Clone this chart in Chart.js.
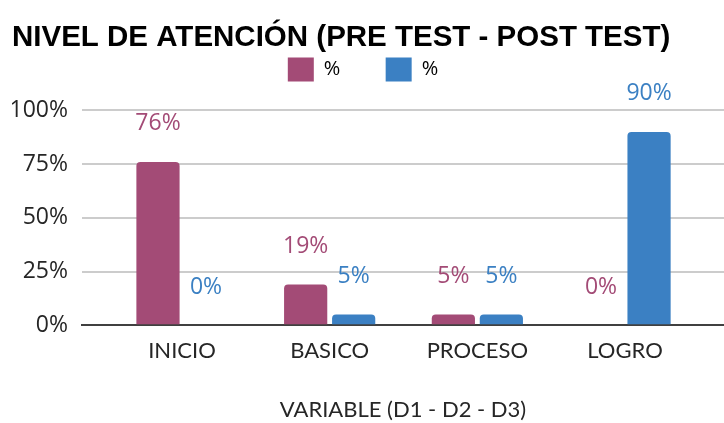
<!DOCTYPE html>
<html>
<head>
<meta charset="utf-8">
<script src="https://cdn.jsdelivr.net/npm/chart.js@4.4.1/dist/chart.umd.min.js"></script>
<style>
  html, body { margin: 0; padding: 0; background: #ffffff; }
  #wrap { width: 724px; height: 423px; position: relative; }
</style>
</head>
<body>
<div id="wrap"><canvas id="chart"></canvas></div>
<script>
// Data
const categories = ['INICIO', 'BASICO', 'PROCESO', 'LOGRO'];
const preTest = [76, 19, 5, 0];
const postTest = [0, 5, 5, 90];
const yTicks = [0, 25, 50, 75, 100];

const pink = '#a34b76';
const blue = '#3b80c3';

// value labels above each bar
const barLabels = {
    id: 'barLabels',
    afterDatasetsDraw(chart) {
        const ctx = chart.ctx;
        ctx.save();
        ctx.font = '23px "Open Sans"';
        ctx.textAlign = 'center';
        ctx.textBaseline = 'middle';
        chart.data.datasets.forEach((ds, i) => {
            const meta = chart.getDatasetMeta(i);
            ctx.fillStyle = ds.backgroundColor;
            meta.data.forEach((bar, j) => {
                ctx.fillText(ds.data[j].y + '%', bar.x, bar.y - 38);
            });
        });
        ctx.restore();
    }
};

// extra room between legend and plot
const legendGap = {
    id: 'legendGap',
    beforeInit(chart) {
        const fitOrig = chart.legend.fit;
        chart.legend.fit = function () {
            fitOrig.call(this);
            this.height += 19;
        };
    }
};

const toPoints = arr => arr.map((v, i) => ({ x: i, y: v }));

new Chart(document.getElementById('chart'), {
    type: 'bar',
    data: {
        datasets: [
            { label: '%', data: toPoints(preTest), backgroundColor: pink, borderRadius: 4 },
            { label: '%', data: toPoints(postTest), backgroundColor: blue, borderRadius: 4 }
        ]
    },
    options: {
        responsive: true,
        maintainAspectRatio: false,
        animation: false,
        categoryPercentage: 0.65,
        barPercentage: 0.9,
        layout: { padding: { left: 12, right: 0, top: 9, bottom: 0 } },
        plugins: {
            title: {
                display: true,
                text: 'NIVEL DE ATENCIÓN (PRE TEST - POST TEST)',
                align: 'start',
                color: '#000000',
                font: { family: '"Liberation Sans"', size: 29.5, weight: 'bold' },
                padding: { top: 11, bottom: 0 }
            },
            legend: {
                display: true,
                labels: {
                    boxWidth: 26,
                    boxHeight: 24,
                    padding: 2,
                    color: '#262626',
                    font: { family: '"Open Sans"', size: 20 },
                    generateLabels(chart) {
                        return chart.data.datasets.map((ds, i) => ({
                            text: ds.label + (i === 0 ? '\u2002\u2002\u2002\u2002\u2009' : '\u2002'),
                            fillStyle: ds.backgroundColor,
                            strokeStyle: ds.backgroundColor,
                            lineWidth: 0,
                            datasetIndex: i
                        }));
                    }
                }
            },
            tooltip: { enabled: false }
        },
        scales: {
            x: {
                type: 'linear',
                offset: false,
                min: -0.677,
                max: 3.67,
                afterBuildTicks(axis) {
                    axis.ticks = categories.map((c, i) => ({ value: i }));
                },
                ticks: {
                    color: '#262626',
                    padding: 5,
                    font: { family: 'Lato', size: 22 },
                    callback: v => categories[v]
                },
                grid: { display: false },
                border: { display: true, color: '#404040', width: 2 },
                title: {
                    display: true,
                    text: 'VARIABLE (D1 - D2 - D3)',
                    color: '#262626',
                    font: { family: 'Lato', size: 22 },
                    padding: { top: 27, bottom: 0 }
                }
            },
            y: {
                min: 0,
                max: 100,
                afterBuildTicks(axis) {
                    axis.ticks = yTicks.map(v => ({ value: v }));
                },
                afterFit(axis) {
                    axis.width = 70;
                },
                ticks: {
                    color: '#262626',
                    padding: 14,
                    font: { family: '"Open Sans"', size: 23 },
                    callback: v => v + '%'
                },
                grid: { color: '#cccccc', lineWidth: 2, drawTicks: false },
                border: { display: false }
            }
        }
    },
    plugins: [barLabels, legendGap]
});
</script>
</body>
</html>
